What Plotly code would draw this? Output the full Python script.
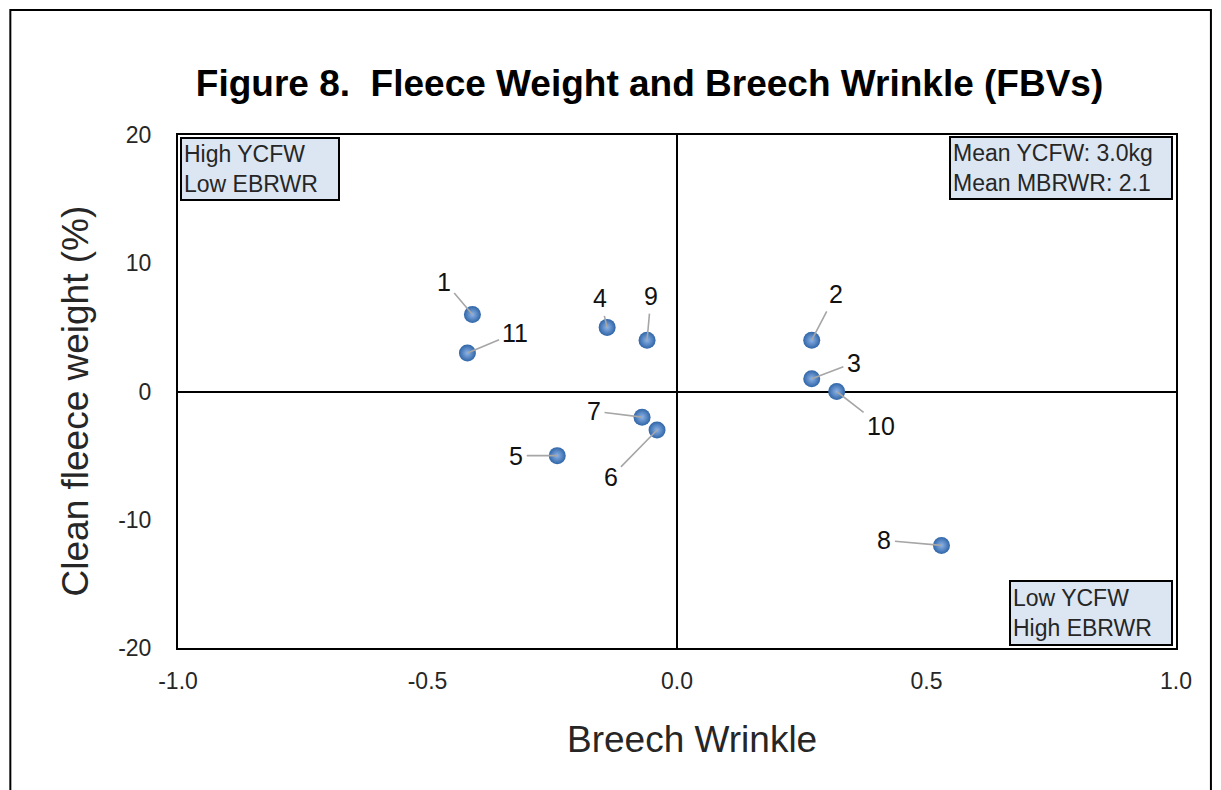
import plotly.graph_objects as go

ids = ["1", "2", "3", "4", "5", "6", "7", "8", "9", "10", "11"]
breech_wrinkle = [-0.41, 0.27, 0.27, -0.14, -0.24, -0.04, -0.07, 0.53, -0.06, 0.32, -0.42]
fleece_weight = [6, 4, 1, 5, -5, -3, -2, -12, 4, 0, 3]
# label offsets (pixels) for the leader-line labels
label_dx = [-28, 24, 42, -7, -41, -46, -48, -57, 4, 44, 48]
label_dy = [-33, -46, -16, -29, 0, 47, -6, -5, -44, 34, -20]

x_ticks = [-1.0, -0.5, 0.0, 0.5, 1.0]
x_tick_text = ["-1.0", "-0.5", "0.0", "0.5", "1.0"]
y_ticks = [-20, -10, 0, 10, 20]
y_tick_text = ["-20", "-10", "0", "10", "20"]

FONT = "Liberation Sans, Arial, sans-serif"

fig = go.Figure()
fig.add_trace(go.Scatter(
    x=breech_wrinkle, y=fleece_weight, mode="markers",
    marker=dict(size=17, color="#2F65A8",
                gradient=dict(type="radial", color="#8DB3E6"),
                line=dict(width=0)),
    hoverinfo="x+y", showlegend=False,
))

for i, t in enumerate(ids):
    fig.add_annotation(
        x=breech_wrinkle[i], y=fleece_weight[i], text=t,
        showarrow=True, arrowhead=0, arrowwidth=1.6, arrowcolor="#A6A6A6",
        ax=label_dx[i], ay=label_dy[i], standoff=0, startstandoff=2,
        font=dict(family=FONT, size=25, color="#111111"),
    )

box_font = dict(family=FONT, size=23, color="#262626")
fig.add_annotation(xref="x domain", yref="y domain", x=0.002, y=0.996,
                   xanchor="left", yanchor="top", align="left",
                   text="High YCFW<br>Low EBRWR", showarrow=False,
                   width=152, height=56,
                   font=box_font, bgcolor="#DCE6F2", bordercolor="#000000",
                   borderwidth=2, borderpad=2)
fig.add_annotation(xref="x domain", yref="y domain", x=0.997, y=0.998,
                   xanchor="right", yanchor="top", align="left",
                   text="Mean YCFW: 3.0kg<br>Mean MBRWR: 2.1", showarrow=False,
                   width=216, height=56,
                   font=box_font, bgcolor="#DCE6F2", bordercolor="#000000",
                   borderwidth=2, borderpad=2)
fig.add_annotation(xref="x domain", yref="y domain", x=0.997, y=0.004,
                   xanchor="right", yanchor="bottom", align="left",
                   text="Low YCFW<br>High EBRWR", showarrow=False,
                   width=156, height=58,
                   font=box_font, bgcolor="#DCE6F2", bordercolor="#000000",
                   borderwidth=2, borderpad=2)

# axis titles
title_font = dict(family=FONT, size=37, color="#262626")
fig.add_annotation(xref="paper", yref="paper", x=0.515, y=-0.179,
                   xanchor="center", yanchor="middle", showarrow=False,
                   text="Breech Wrinkle", font=title_font)
fig.add_annotation(xref="paper", yref="paper", x=-0.103, y=0.481,
                   xanchor="center", yanchor="middle", showarrow=False,
                   textangle=-90, text="Clean fleece weight (%)", font=title_font)

# outer chart border
fig.add_shape(type="rect", xref="paper", yref="paper",
              x0=-0.168, x1=1.035, y0=-0.4, y1=1.2437,
              line=dict(color="#000000", width=2), layer="below")

fig.update_layout(
    width=1221, height=790,
    margin=dict(l=178, r=45, t=135, b=142),
    paper_bgcolor="white", plot_bgcolor="white",
    title=dict(text="<b>Figure 8.\u00a0 Fleece Weight and Breech Wrinkle (FBVs)</b>",
               x=0.532, xanchor="center", y=0.895, yanchor="middle",
               font=dict(family=FONT, size=37, color="#000000")),
    font=dict(family=FONT),
)
fig.update_xaxes(
    range=[-1.0, 1.0], tickvals=x_ticks, ticktext=x_tick_text,
    showgrid=False, zeroline=True, zerolinecolor="#000000", zerolinewidth=2,
    showline=True, linecolor="#000000", linewidth=2, mirror=True,
    ticks="", ticklabelstandoff=11,
    tickfont=dict(family=FONT, size=23, color="#262626"),
)
fig.update_yaxes(
    range=[-20, 20], tickvals=y_ticks, ticktext=y_tick_text,
    showgrid=False, zeroline=True, zerolinecolor="#000000", zerolinewidth=2,
    showline=True, linecolor="#000000", linewidth=2, mirror=True,
    ticks="", ticklabelstandoff=20,
    tickfont=dict(family=FONT, size=23, color="#262626"),
)

fig.write_html("out.html", config={"displayModeBar": False},
               post_script="document.body.style.margin='0px';")
